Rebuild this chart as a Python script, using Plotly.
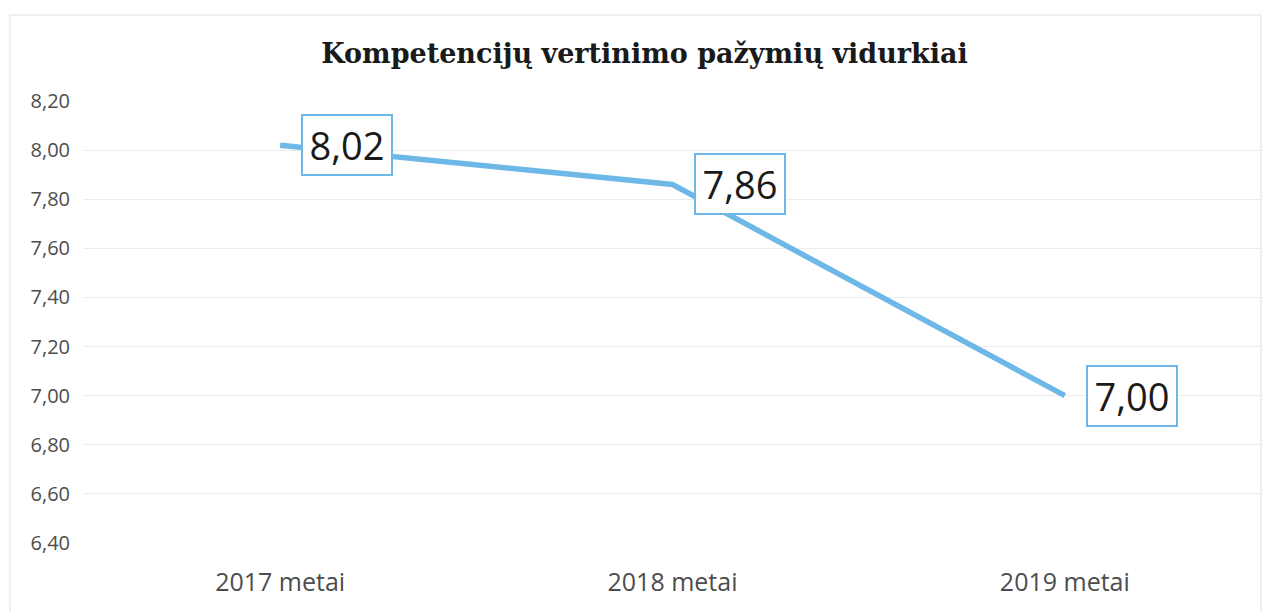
import plotly.graph_objects as go

categories = ["2017 metai", "2018 metai", "2019 metai"]
values = [8.02, 7.86, 7.00]
value_labels = ["8,02", "7,86", "7,00"]
tick_vals = [6.40, 6.60, 6.80, 7.00, 7.20, 7.40, 7.60, 7.80, 8.00, 8.20]
tick_text = ["6,40", "6,60", "6,80", "7,00", "7,20", "7,40", "7,60", "7,80", "8,00", "8,20"]
title = "Kompetencijų vertinimo pažymių vidurkiai"

line_color = "#6DB8E6"

fig = go.Figure()
fig.add_trace(go.Scatter(
    x=categories, y=values, mode="lines",
    line=dict(color=line_color, width=5.5),
    hoverinfo="skip", showlegend=False,
))

for c, v, t in zip(categories, values, value_labels):
    fig.add_annotation(
        x=c, y=v, text=t, showarrow=False,
        xanchor="left", yanchor="middle", xshift=21,
        width=80, height=50, align="center", valign="middle",
        font=dict(family="Open Sans, Noto Sans, sans-serif", size=38, color="#1a1a1a"),
        bgcolor="white", bordercolor=line_color, borderwidth=2, borderpad=4,
    )

fig.update_layout(
    width=1273, height=612,
    paper_bgcolor="white", plot_bgcolor="white",
    margin=dict(l=76, r=20, t=93, b=77),
    title=dict(
        text="<b>" + title + "</b>", x=0.5, xanchor="center", y=0.925, yanchor="middle",
        font=dict(family="DejaVu Serif, Liberation Serif, serif", size=27, color="#1a1a1a"),
    ),
    xaxis=dict(
        type="category", showgrid=False, zeroline=False, showline=False,
        ticks="", tickfont=dict(family="Open Sans, sans-serif", size=25, color="#4d4d4d"),
        range=[-0.5, 2.5], ticklabelstandoff=22,
    ),
    yaxis=dict(
        range=[6.4, 8.2], tickvals=tick_vals, ticktext=tick_text,
        showgrid=True, gridcolor="#ececec", gridwidth=1,
        zeroline=False, showline=False, ticks="",
        tickfont=dict(family="Open Sans, sans-serif", size=20, color="#4d4d4d"),
        ticklabelstandoff=13,
    ),
    shapes=[dict(type="rect", xref="paper", yref="paper", x0=-0.0629, x1=1.0,
                 y0=-0.3, y1=1.1946, line=dict(color="#f0f0f0", width=2))],
)

fig.write_html("out.html")
